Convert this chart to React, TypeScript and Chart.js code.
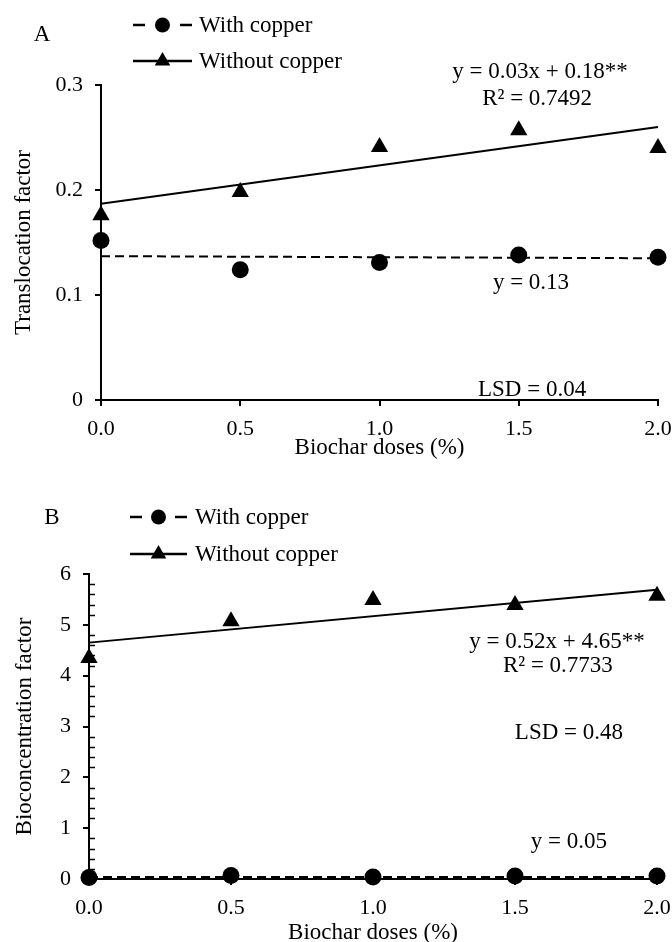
import React, { useEffect, useRef } from "react";
import { Chart, registerables } from "chart.js";

Chart.register(...registerables);

// ---------- data ----------
const doses = [0, 0.5, 1, 1.5, 2];
const xTickValues = [0, 0.5, 1, 1.5, 2];
const trendX = [0, 2];

// Panel A: translocation factor
const tfWithCopper = [0.152, 0.124, 0.131, 0.138, 0.136];
const tfWithoutCopper = [0.176, 0.198, 0.241, 0.257, 0.240];
const tfTrendWithCopper = [0.137, 0.135];
const tfTrendWithoutCopper = [0.187, 0.26];
const tfYTicks = [0, 0.1, 0.2, 0.3];
const tfNotes = [
  { text: "y = 0.03x + 0.18**", x: 1.576, y: 0.3124 },
  { text: "R\u00B2 = 0.7492", x: 1.566, y: 0.2867 },
  { text: "y = 0.13", x: 1.544, y: 0.1114 },
  { text: "LSD = 0.04", x: 1.548, y: 0.0095 },
];

// Panel B: bioconcentration factor
const bcfWithCopper = [0.03, 0.07, 0.04, 0.06, 0.06];
const bcfWithoutCopper = [4.35, 5.07, 5.49, 5.39, 5.57];
const bcfTrendWithCopper = [0.04, 0.04];
const bcfTrendWithoutCopper = [4.65, 5.69];
const bcfYTicks = [0, 1, 2, 3, 4, 5, 6];
const bcfMinorTicks = [0.2, 0.4, 0.6, 0.8, 1.2, 1.4, 1.6, 1.8, 2.2, 2.4, 2.6, 2.8, 3.2, 3.4, 3.6, 3.8, 4.2, 4.4, 4.6, 4.8, 5.2, 5.4, 5.6, 5.8];
const bcfNotes = [
  { text: "y = 0.52x + 4.65**", x: 1.648, y: 4.66 },
  { text: "R\u00B2 = 0.7733", x: 1.651, y: 4.19 },
  { text: "LSD = 0.48", x: 1.69, y: 2.87 },
  { text: "y = 0.05", x: 1.69, y: 0.73 },
];

const legendLabels = ["With copper", "Without copper"];
const xTitle = "Biochar doses (%)";

const FONT = '"Liberation Serif", "Times New Roman", serif';
const TEXT_SIZE = 23;
const TICK_SIZE = 22;

type Note = { text: string; x: number; y: number };

interface PanelCfg {
  letter: string;
  letterPos: [number, number];
  legendX: [number, number, number]; // line start, line end, text x
  legendY: [number, number];
  yTitle: string;
  withCopper: number[];
  withoutCopper: number[];
  trendWith: number[];
  trendWithout: number[];
  yMax: number;
  yTicks: number[];
  yFmt: (v: number) => string;
  minorTicks: number[];
  notes: Note[];
  yWidth: number;
  xHeight: number;
  padTop: number;
  padRight: number;
  xTitlePadBottom: number;
  yTitlePadTop: number;
}

function drawTriangle(ctx: CanvasRenderingContext2D, cx: number, cy: number, r: number) {
  ctx.beginPath();
  ctx.moveTo(cx, cy - r);
  ctx.lineTo(cx + r * 0.866, cy + r * 0.5);
  ctx.lineTo(cx - r * 0.866, cy + r * 0.5);
  ctx.closePath();
  ctx.fill();
}

function makeConfig(p: PanelCfg): any {
  const overlay = {
    id: "overlay",
    afterDraw(chart: any) {
      const ctx: CanvasRenderingContext2D = chart.ctx;
      const xs = chart.scales.x;
      const ys = chart.scales.y;
      ctx.save();
      ctx.fillStyle = "#000";
      ctx.strokeStyle = "#000";
      // minor ticks (inside)
      ctx.lineWidth = 1.5;
      const ax = chart.chartArea.left;
      p.minorTicks.forEach((v) => {
        const py = Math.round(ys.getPixelForValue(v)) + 0.5;
        ctx.beginPath();
        ctx.moveTo(ax, py);
        ctx.lineTo(ax + 6, py);
        ctx.stroke();
      });
      // notes
      ctx.font = `${TEXT_SIZE}px ${FONT}`;
      ctx.textAlign = "center";
      ctx.textBaseline = "middle";
      p.notes.forEach((n) => {
        ctx.fillText(n.text, xs.getPixelForValue(n.x), ys.getPixelForValue(n.y));
      });
      // panel letter
      ctx.fillText(p.letter, p.letterPos[0], p.letterPos[1]);
      // legend
      const [l0, l1, tx] = p.legendX;
      const mid = (l0 + l1) / 2;
      ctx.lineWidth = 2.5;
      let ly = p.legendY[0];
      ctx.beginPath();
      ctx.moveTo(l0, ly);
      ctx.lineTo(l0 + 12, ly);
      ctx.moveTo(l1 - 12, ly);
      ctx.lineTo(l1, ly);
      ctx.stroke();
      ctx.beginPath();
      ctx.arc(mid, ly, 7.5, 0, Math.PI * 2);
      ctx.fill();
      ctx.textAlign = "left";
      ctx.fillText(legendLabels[0], tx, ly + 1);
      ly = p.legendY[1];
      ctx.beginPath();
      ctx.moveTo(l0, ly);
      ctx.lineTo(l1, ly);
      ctx.stroke();
      drawTriangle(ctx, mid, ly, 9);
      ctx.fillText(legendLabels[1], tx, ly + 1);
      ctx.restore();
    },
  };

  const pts = (arr: number[]) => arr.map((y, i) => ({ x: doses[i], y }));
  const tr = (arr: number[]) => arr.map((y, i) => ({ x: trendX[i], y }));

  return {
    type: "scatter",
    data: {
      datasets: [
        {
          label: "trend with",
          data: tr(p.trendWith),
          showLine: true,
          borderColor: "#000",
          borderWidth: 2,
          borderDash: [9, 5],
          pointRadius: 0,
          order: 3,
          clip: false,
        },
        {
          label: "trend without",
          data: tr(p.trendWithout),
          showLine: true,
          borderColor: "#000",
          borderWidth: 2,
          pointRadius: 0,
          order: 3,
          clip: false,
        },
        {
          label: legendLabels[0],
          data: pts(p.withCopper),
          pointStyle: "circle",
          pointRadius: 8.5,
          backgroundColor: "#000",
          borderColor: "#000",
          borderWidth: 0,
          order: 1,
          clip: false,
        },
        {
          label: legendLabels[1],
          data: pts(p.withoutCopper),
          pointStyle: "triangle",
          pointRadius: 10,
          backgroundColor: "#000",
          borderColor: "#000",
          borderWidth: 0,
          order: 1,
          clip: false,
        },
      ],
    },
    options: {
      animation: false,
      responsive: false,
      devicePixelRatio: 1,
      events: [],
      layout: { padding: { left: 0, right: p.padRight, top: p.padTop, bottom: 0 } },
      plugins: { legend: { display: false }, tooltip: { enabled: false } },
      scales: {
        x: {
          type: "linear",
          min: 0,
          max: 2,
          afterBuildTicks: (s: any) => {
            s.ticks = xTickValues.map((v) => ({ value: v }));
          },
          afterFit: (s: any) => {
            s.height = p.xHeight;
            s.paddingLeft = 0;
            s.paddingRight = 0;
          },
          ticks: {
            callback: (v: any) => Number(v).toFixed(1),
            color: "#000",
            font: { family: FONT, size: TICK_SIZE },
            padding: 10,
            autoSkip: false,
            maxRotation: 0,
          },
          grid: { drawOnChartArea: false, drawTicks: true, tickLength: 6, color: "#000", lineWidth: 2 },
          border: { display: true, color: "#000", width: 2 },
          title: {
            display: true,
            text: xTitle,
            color: "#000",
            font: { family: FONT, size: TEXT_SIZE },
            padding: { top: 0, bottom: p.xTitlePadBottom },
          },
        },
        y: {
          type: "linear",
          min: 0,
          max: p.yMax,
          afterBuildTicks: (s: any) => {
            s.ticks = p.yTicks.map((v) => ({ value: v }));
          },
          afterFit: (s: any) => {
            s.width = p.yWidth;
            s.paddingTop = 0;
            s.paddingBottom = 0;
          },
          ticks: {
            callback: (v: any) => p.yFmt(Number(v)),
            color: "#000",
            font: { family: FONT, size: TICK_SIZE },
            padding: 12,
          },
          grid: { drawOnChartArea: false, drawTicks: true, tickLength: 6, color: "#000", lineWidth: 2 },
          border: { display: true, color: "#000", width: 2 },
          title: {
            display: true,
            text: p.yTitle,
            color: "#000",
            font: { family: FONT, size: TEXT_SIZE },
            padding: { top: p.yTitlePadTop, bottom: 0 },
          },
        },
      },
    },
    plugins: [overlay],
  };
}

const panelA: PanelCfg = {
  letter: "A",
  letterPos: [42, 35],
  legendX: [133, 192, 199],
  legendY: [25, 61],
  yTitle: "Translocation factor",
  withCopper: tfWithCopper,
  withoutCopper: tfWithoutCopper,
  trendWith: tfTrendWithCopper,
  trendWithout: tfTrendWithoutCopper,
  yMax: 0.3,
  yTicks: tfYTicks,
  yFmt: (v) => (v === 0 ? "0" : v.toFixed(1)),
  minorTicks: [],
  notes: tfNotes,
  yWidth: 101,
  xHeight: 70,
  padTop: 85,
  padRight: 14,
  xTitlePadBottom: 8,
  yTitlePadTop: 10,
};

const panelB: PanelCfg = {
  letter: "B",
  letterPos: [52, 48],
  legendX: [130, 187, 195],
  legendY: [47, 84],
  yTitle: "Bioconcentration factor",
  withCopper: bcfWithCopper,
  withoutCopper: bcfWithoutCopper,
  trendWith: bcfTrendWithCopper,
  trendWithout: bcfTrendWithoutCopper,
  yMax: 6,
  yTicks: bcfYTicks,
  yFmt: (v) => String(Math.round(v)),
  minorTicks: bcfMinorTicks,
  notes: bcfNotes,
  yWidth: 89,
  xHeight: 71,
  padTop: 104,
  padRight: 15,
  xTitlePadBottom: 3,
  yTitlePadTop: 11,
};

export default function App() {
  const refA = useRef<HTMLCanvasElement>(null);
  const refB = useRef<HTMLCanvasElement>(null);

  useEffect(() => {
    document.body.style.margin = "0";
    const a = new Chart(refA.current as HTMLCanvasElement, makeConfig(panelA));
    const b = new Chart(refB.current as HTMLCanvasElement, makeConfig(panelB));
    return () => {
      a.destroy();
      b.destroy();
    };
  }, []);

  return (
    <div style={{ position: "relative", width: 672, height: 942, overflow: "hidden", background: "#fff" }}>
      <canvas ref={refA} width={672} height={470} style={{ position: "absolute", left: 0, top: 0 }} />
      <canvas ref={refB} width={672} height={480} style={{ position: "absolute", left: 0, top: 470 }} />
    </div>
  );
}
